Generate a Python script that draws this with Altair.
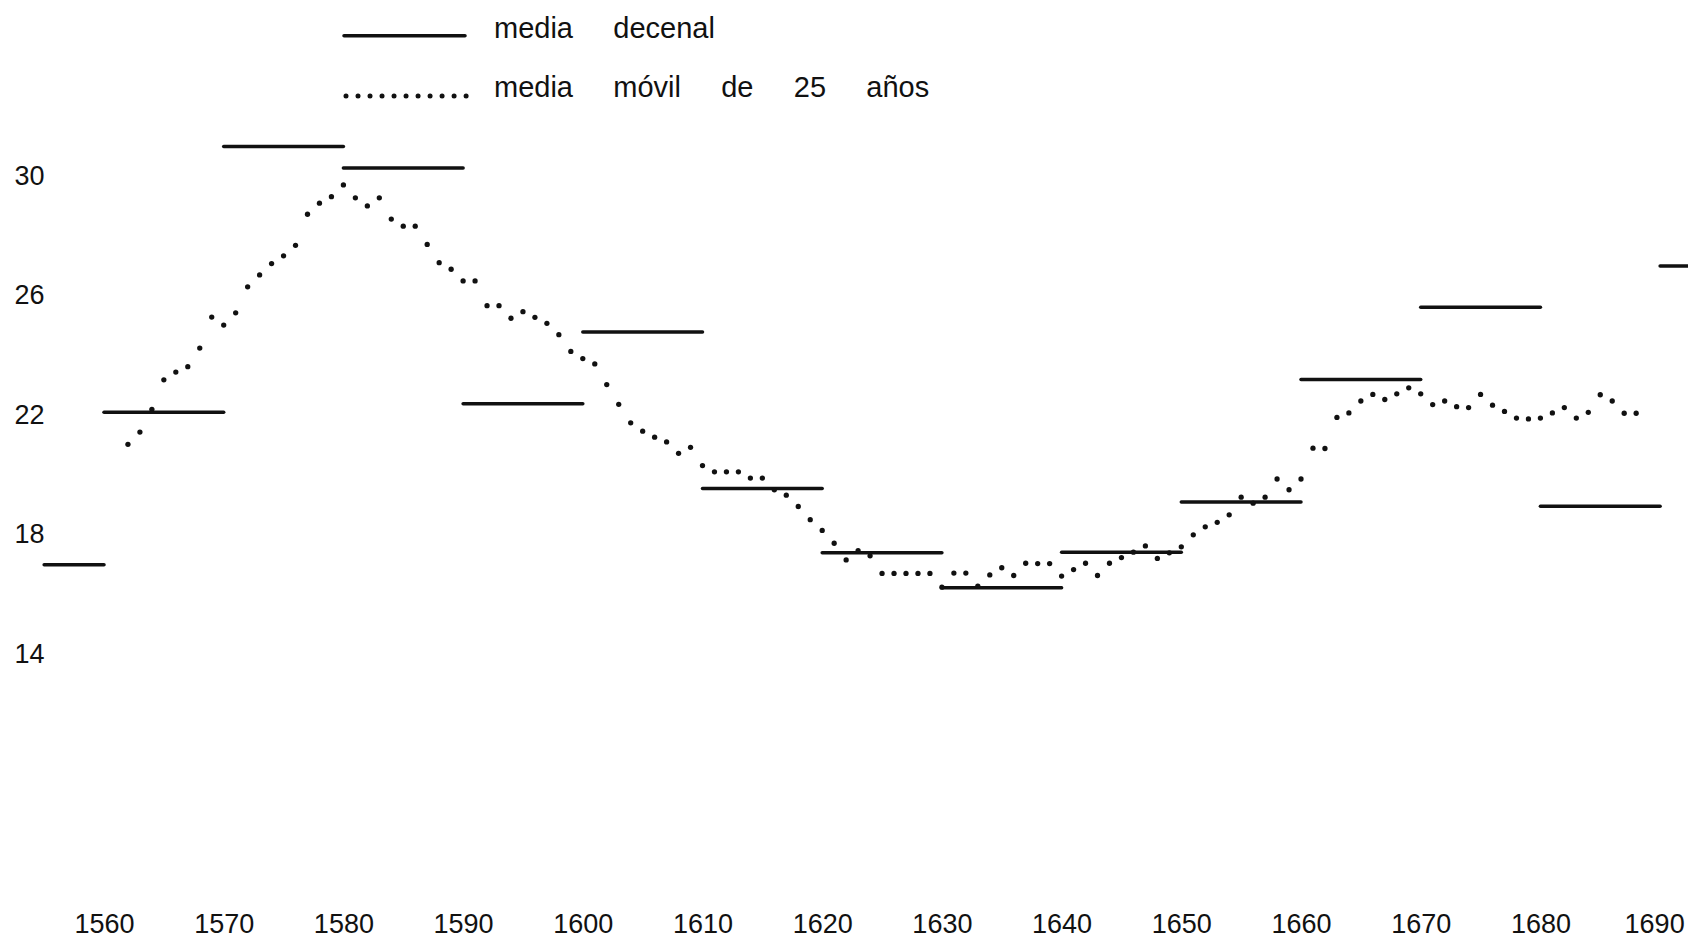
import altair as alt
import pandas as pd

# ---- data ----
decade_start = [1555, 1560, 1570, 1580, 1590, 1600, 1610, 1620, 1630, 1640, 1650, 1660, 1670, 1680, 1690]
decade_end = [1560, 1570, 1580, 1590, 1600, 1610, 1620, 1630, 1640, 1650, 1660, 1670, 1680, 1690, 1700]
decade_mean = [17.0, 22.1, 31.0, 30.28, 22.39, 24.79, 19.55, 17.4, 16.23, 17.42, 19.1, 23.2, 25.62, 18.96, 27.0]

ma_years = list(range(1562, 1689))
ma_values = [
    21.03, 21.44, 22.20, 23.19, 23.45, 23.63, 24.25, 25.29, 25.02, 25.43,
    26.30, 26.70, 27.08, 27.34, 27.69, 28.73, 29.10, 29.32, 29.71, 29.28,
    29.01, 29.28, 28.57, 28.33, 28.33, 27.72, 27.11, 26.89, 26.50, 26.50,
    25.67, 25.67, 25.25, 25.47, 25.28, 25.08, 24.70, 24.14, 23.90, 23.72,
    23.03, 22.37, 21.75, 21.47, 21.27, 21.11, 20.73, 20.93, 20.32, 20.11,
    20.11, 20.11, 19.90, 19.90, 19.51, 19.33, 18.95, 18.51, 18.15, 17.72,
    17.16, 17.47, 17.30, 16.71, 16.71, 16.71, 16.71, 16.71, 16.25, 16.72,
    16.72, 16.28, 16.66, 16.90, 16.64, 17.05, 17.04, 17.04, 16.62, 16.84,
    17.05, 16.64, 17.05, 17.24, 17.42, 17.63, 17.21, 17.40, 17.60, 18.00,
    18.27, 18.42, 18.67, 19.26, 19.06, 19.26, 19.87, 19.51, 19.87, 20.90,
    20.89, 21.93, 22.08, 22.48, 22.70, 22.53, 22.72, 22.92, 22.72, 22.36,
    22.48, 22.29, 22.26, 22.70, 22.34, 22.13, 21.91, 21.88, 21.91, 22.08,
    22.26, 21.91, 22.10, 22.69, 22.48, 22.07, 22.07,
]

x_ticks = [1560, 1570, 1580, 1590, 1600, 1610, 1620, 1630, 1640, 1650, 1660, 1670, 1680, 1690]
y_ticks = [14, 18, 22, 26, 30]

NB = "\u00a0"
legend_line1 = "media" + NB * 5 + "decenal"
legend_line2 = "media" + NB * 5 + "móvil" + NB * 5 + "de" + NB * 5 + "25" + NB * 5 + "años"

seg_df = pd.DataFrame({"start": decade_start, "end": decade_end, "mean": decade_mean})
ma_df = pd.DataFrame({"year": ma_years, "value": ma_values})

W, H = 1680, 892
x_scale = alt.Scale(domain=[1551.98, 1692.33], nice=False, zero=False)
y_scale = alt.Scale(domain=[5.78, 35.633], nice=False, zero=False)

NUM_FONT = "Liberation Sans"
TXT_FONT = "Liberation Sans"
INK = "#111111"

x_axis = alt.Axis(values=x_ticks, format="d", title=None, domain=False, ticks=False, grid=False,
                  labelFont=NUM_FONT, labelFontSize=27, labelColor=INK, labelPadding=11,
                  labelOverlap=False, labelFlush=False,
                  labelOffset={"condition": {"test": "datum.value === 1690", "value": -6}, "value": 0})
y_axis = alt.Axis(values=y_ticks, format="d", title=None, domain=False, ticks=False, grid=False,
                  labelFont=NUM_FONT, labelFontSize=27, labelColor=INK, labelPadding=0,
                  offset=-36, labelAlign="right", labelBaseline="middle")

segments = alt.Chart(seg_df).mark_rule(strokeWidth=3.5, color=INK, strokeCap="round", clip=True).encode(
    x=alt.X("start:Q", scale=x_scale, axis=x_axis),
    x2="end:Q",
    y=alt.Y("mean:Q", scale=y_scale, axis=y_axis),
)

dots = alt.Chart(ma_df).mark_circle(size=28, color=INK, opacity=1).encode(
    x=alt.X("year:Q", scale=x_scale),
    y=alt.Y("value:Q", scale=y_scale),
)

one = pd.DataFrame({"a": [0]})
leg_solid = alt.Chart(one).mark_rule(strokeWidth=3.5, color=INK, strokeCap="round").encode(
    x=alt.value(336), x2=alt.value(457), y=alt.value(27.7)
)
leg_dotted = alt.Chart(one).mark_rule(strokeWidth=5, color=INK, strokeCap="round", strokeDash=[0.01, 12]).encode(
    x=alt.value(338), x2=alt.value(460), y=alt.value(88)
)
leg_t1 = alt.Chart(one).mark_text(text=legend_line1, font=TXT_FONT, fontSize=29, color=INK,
                                  align="left", baseline="alphabetic").encode(
    x=alt.value(486), y=alt.value(30)
)
leg_t2 = alt.Chart(one).mark_text(text=legend_line2, font=TXT_FONT, fontSize=29, color=INK,
                                  align="left", baseline="alphabetic").encode(
    x=alt.value(486), y=alt.value(89)
)

chart = alt.layer(segments, dots, leg_solid, leg_dotted, leg_t1, leg_t2).properties(
    width=W, height=H,
    autosize=alt.AutoSizeParams(type="none"),
    padding={"left": 0, "top": 0, "right": 0, "bottom": 38},
    background="white",
).configure_view(strokeWidth=0)

chart.save("out.html", embed_options={"renderer": "svg", "actions": False})
